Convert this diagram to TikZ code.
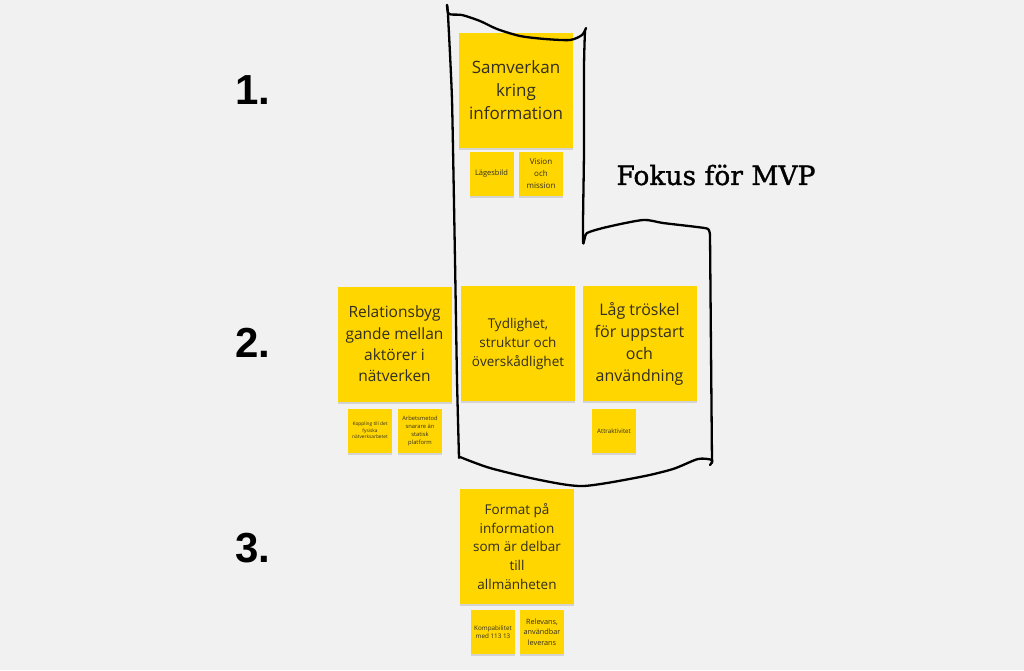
\documentclass[tikz,border=0pt]{standalone}
\usepackage{fontspec}
\usepackage{xcolor}
\usepackage{tikz}
\usetikzlibrary{shadows}

\setmainfont{Open Sans}
\newfontfamily\numfont{Liberation Sans}
\newfontfamily\titlefont[FakeBold=1.2]{DejaVu Serif}

\definecolor{boardgray}{RGB}{241,241,241}
\definecolor{stickyyellow}{RGB}{255,214,0}
\definecolor{stickytext}{RGB}{50,46,34}

\tikzset{
    sticky/.style={fill=stickyyellow, text=stickytext, align=center, inner sep=0pt,
        minimum width=114pt, minimum height=115pt,
        drop shadow={shadow xshift=0pt, shadow yshift=-2pt, opacity=.12, fill=black}},
    smallsticky/.style={sticky, minimum width=44pt, minimum height=44pt},
    handline/.style={line width=2.3pt, black, line cap=round, line join=round},
    rownum/.style={font=\numfont\bfseries\fontsize{42}{42}\selectfont}
}

\begin{document}
\begin{tikzpicture}[x=1pt, y=-1pt]
        \fill[boardgray] (0,0) rectangle (1024,670);
        \useasboundingbox (0,0) rectangle (1024,670);

        % row numbers
        \node[rownum] (one) at (253, 90) {1.};
        \node[rownum] (two) at (253, 343) {2.};
        \node[rownum] (three) at (253, 548) {3.};

        \node[font=\titlefont\fontsize{26.5}{26.5}\selectfont] (fokus) at (716, 175) {Fokus för MVP};

        % row 1
        \node[sticky, font=\fontsize{17}{23}\selectfont] (samverkan) at (516, 90.5) {Samverkan\\kring\\information};
        \node[smallsticky, font=\fontsize{7.5}{12}\selectfont] (lages) at (491.5, 174) {Lägesbild};
        \node[smallsticky, font=\fontsize{8}{12}\selectfont] (vision) at (541, 174) {Vision\\och\\mission};

        % row 2
        \node[sticky, font=\fontsize{15.5}{21.3}\selectfont] (relation) at (394.5, 344) {Relationsbyg\\gande mellan\\aktörer i\\nätverken};
        \node[sticky, font=\fontsize{13.5}{19}\selectfont] (tydlighet) at (518, 343.5) {Tydlighet,\\struktur och\\överskådlighet};
        \node[sticky, font=\fontsize{16}{22}\selectfont] (troskel) at (639.5, 343.5) {Låg tröskel\\för uppstart\\och\\användning};
        \node[smallsticky, font=\fontsize{4.8}{6.5}\selectfont] (koppling) at (370, 430.5) {Koppling till det\\fysiska\\nätverksarbetet};
        \node[smallsticky, font=\fontsize{5.8}{8}\selectfont] (arbetsmetod) at (420, 430.5) {Arbetsmetod\\snarare än\\statisk\\platform};
        \node[smallsticky, font=\fontsize{6.2}{8}\selectfont] (attrakt) at (614, 431) {Attraktivitet};

        % row 3
        \node[sticky, font=\fontsize{13.5}{18.8}\selectfont] (format) at (517, 546.5) {Format på\\information\\som är delbar\\till\\allmänheten};
        \node[smallsticky, font=\fontsize{6.3}{8.5}\selectfont] (kompab) at (493, 632) {Kompabilitet\\med 113 13};
        \node[smallsticky, font=\fontsize{7.3}{10.5}\selectfont] (relevans) at (542, 632) {Relevans,\\användbar\\leverans};

        % hand drawn frame round the MVP focus
        \draw[handline] plot[smooth, tension=0.45] coordinates {
            (447,5) (449,14) (462,15) (480,21) (497,29) (520,36) (545,39) (570,40) (582,35) (586,28)};
        \draw[handline] plot[smooth, tension=0.45] coordinates {
            (585,30) (584,67) (584,150) (583,240) (587,233) (607,227) (643,220) (663,223) (697,227) (708,229) (710,235)};
        \draw[handline] plot[smooth, tension=0.3] coordinates {
            (710,235) (711,350) (712,463)};
        \draw[handline] plot[smooth, tension=0.45] coordinates {
            (710,465) (712,460) (698,459) (673,469) (640,477) (583,486) (540,480) (490,468) (460,457)};
        \draw[handline] plot[smooth, tension=0.3] coordinates {
            (459,458) (457,380) (455,260) (452,100) (448,15) (447,5)};
    \end{tikzpicture}
\end{document}
